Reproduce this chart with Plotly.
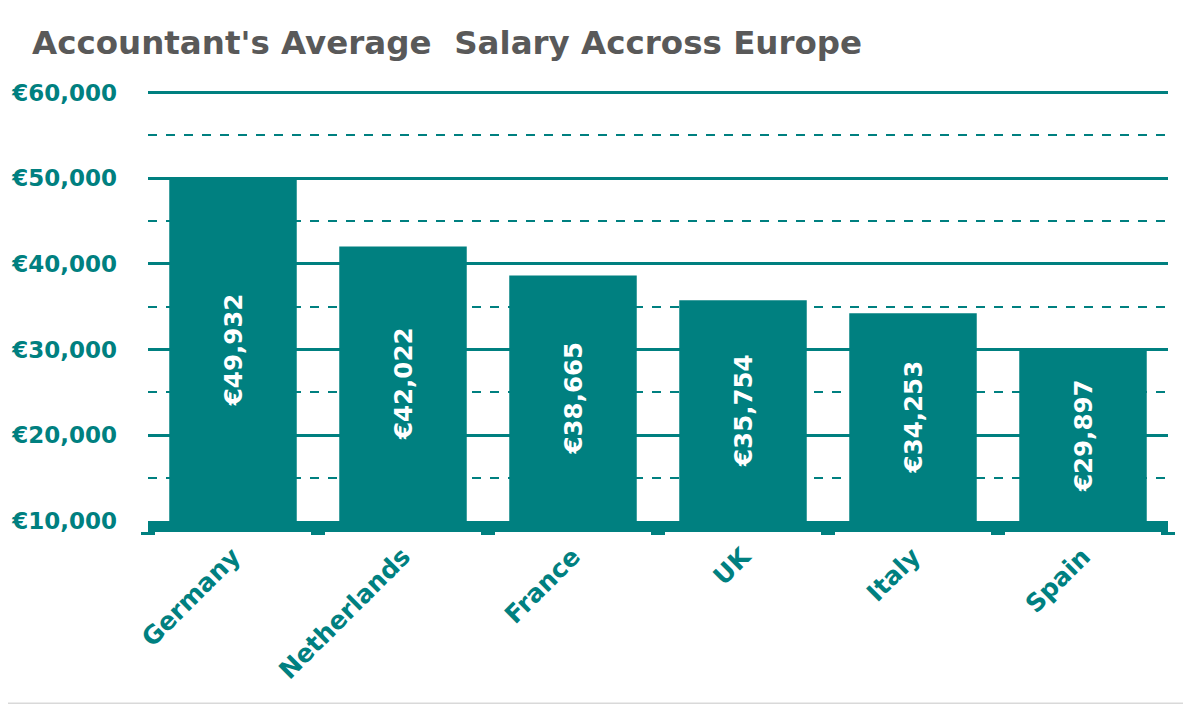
import plotly.graph_objects as go

# data
countries = ["Germany", "Netherlands", "France", "UK", "Italy", "Spain"]
salaries = [49932, 42022, 38665, 35754, 34253, 29897]
axis_floor = 10000
axis_top = 60300
y_ticks = [10000, 20000, 30000, 40000, 50000, 60000]
y_tick_text = ["€10,000", "€20,000", "€30,000", "€40,000", "€50,000", "€60,000"]
minor_ticks = [15000, 25000, 35000, 45000, 55000]

TEAL = "#008080"
GREY = "#595959"
FONT = "DejaVu Sans"

# the page body adds an 8px margin, so the figure is 8px smaller
# and everything is placed 8px up/left of the reference
OFF = 8
W, H = 1191 - OFF, 704 - OFF
ML, MR, MB = 148 - OFF, 23, 183
MT = 93 - OFF - 428 * (axis_top - 60000) / 50000
PW, PH = W - ML - MR, H - MT - MB

fig = go.Figure()

# bars start at the axis floor, like the value axis of the original
fig.add_trace(
    go.Bar(
        x=countries,
        y=[s - axis_floor for s in salaries],
        base=axis_floor,
        customdata=salaries,
        marker=dict(color=TEAL, line=dict(width=0)),
        width=0.75,
        texttemplate="€%{customdata:,}",
        textposition="inside",
        insidetextanchor="middle",
        textangle=-90,
        textfont=dict(family=FONT, size=24.5, color="white", weight="bold"),
        hoverinfo="skip",
    )
)

fig.update_layout(
    width=W,
    height=H,
    margin=dict(l=ML, r=MR, t=MT, b=MB, autoexpand=False),
    paper_bgcolor="white",
    plot_bgcolor="white",
    showlegend=False,
    title=dict(
        text="Accountant's Average \u00a0Salary Accross Europe",
        x=24 / W,
        xref="container",
        xanchor="left",
        y=1 - 35 / H,
        yref="container",
        yanchor="middle",
        font=dict(family=FONT, size=32.5, color=GREY, weight="bold"),
    ),
    font=dict(family=FONT),
)

fig.update_yaxes(
    range=[axis_floor, axis_top],
    tickvals=y_ticks,
    ticktext=y_tick_text,
    tickfont=dict(family=FONT, size=23, color=TEAL, weight="bold"),
    ticks="",
    ticklabelstandoff=30,
    automargin=False,
    showgrid=True,
    gridcolor=TEAL,
    gridwidth=3,
    zeroline=False,
    showline=False,
    minor=dict(
        tickvals=minor_ticks,
        showgrid=True,
        gridcolor=TEAL,
        gridwidth=1.5,
        griddash="dash",
        ticks="",
    ),
)

fig.update_xaxes(
    tickangle=-45,
    tickfont=dict(family=FONT, size=25, color=TEAL, weight="bold"),
    automargin=False,
    showline=True,
    linecolor=TEAL,
    linewidth=11,
    ticks="outside",
    tickson="boundaries",
    tickcolor=TEAL,
    tickwidth=14,
    ticklen=3,
    showgrid=False,
)

# light border on the right and bottom edges of the chart
fig.add_shape(
    type="rect",
    xref="paper",
    yref="paper",
    x0=(-ML - 20) / PW,
    x1=1 + (MR - 1) / PW,
    y0=(-MB + 1) / PH,
    y1=1 + (MT + 20) / PH,
    line=dict(color="#D9D9D9", width=1.5),
    fillcolor="rgba(0,0,0,0)",
    layer="below",
)

fig.write_html("out.html")
